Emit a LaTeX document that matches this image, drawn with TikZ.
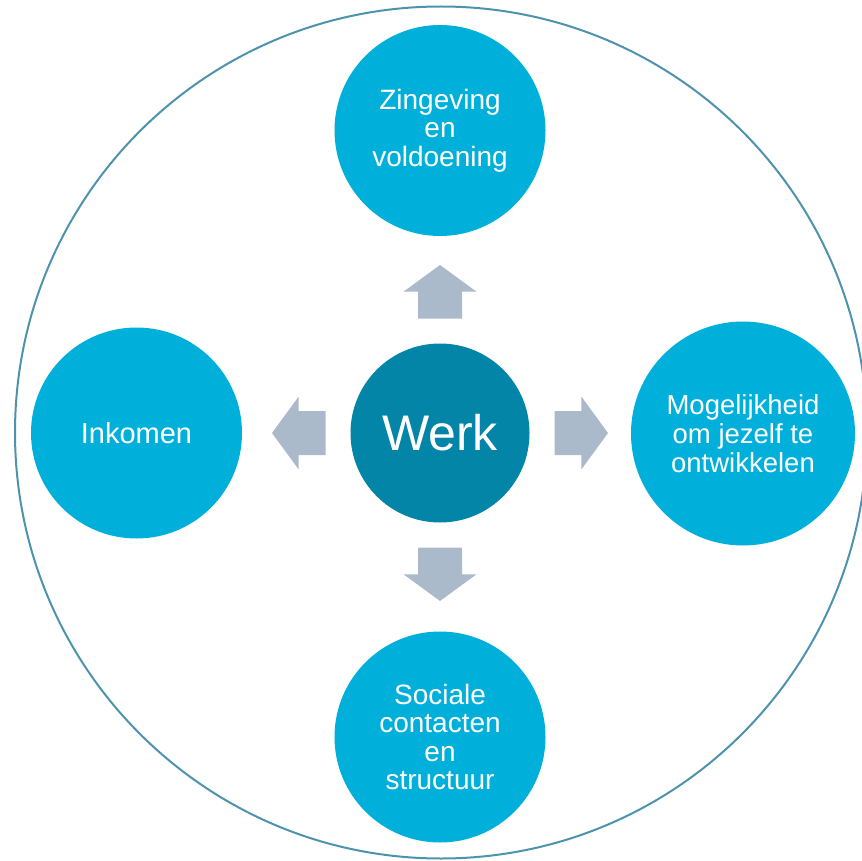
\documentclass[tikz,border=0pt]{standalone}
\usepackage{fontspec}
\setmainfont{Liberation Sans}
\usepackage{tikz}
\usetikzlibrary{calc}

\definecolor{satblue}{RGB}{0,176,219}
\definecolor{werkblue}{RGB}{3,133,168}
\definecolor{arrowgray}{RGB}{171,186,202}
\definecolor{ringblue}{RGB}{77,147,173}

\tikzset{
    satcirc/.style={circle, fill=satblue, text=white, inner sep=0pt, minimum size=211pt,
        align=center, font={\fontsize{28}{28.5}\selectfont}},
    werkcirc/.style={circle, fill=werkblue, text=white, inner sep=0pt, minimum size=179pt,
        font={\fontsize{50}{54}\selectfont}},
    ringcirc/.style={circle, draw=ringblue, line width=2pt, inner sep=0pt, minimum size=852pt},
}

\begin{document}
\begin{tikzpicture}[x=1pt, y=-1pt]
                \useasboundingbox (0,0) rectangle (862,861);
                \node [ringcirc] (ring) at (441,432.5) {};

                \node [werkcirc] (werk) at (440,433) {Werk};
                \node [satcirc] (zin) at (440,130.5) {Zingeving\\en\\voldoening};
                \node [satcirc] (inkomen) at (136.5,433) {\fontsize{29}{30}\selectfont Inkomen};
                \node [satcirc, minimum size=224pt, font={\fontsize{27.5}{29}\selectfont}] (ontw) at (743,433.5) {Mogelijkheid\\om jezelf te\\ontwikkelen};
                \node [satcirc] (sociaal) at (440,737) {Sociale\\contacten\\en\\structuur};

                \foreach \a in {0,90,180,270} {
                    \begin{scope}[shift={(werk.center)}, rotate=\a]
                        \fill [arrowgray] (114.5,-22) -- (141.3,-22) -- (141.3,-36.5) -- (168,0)
                            -- (141.3,36.5) -- (141.3,22) -- (114.5,22) -- cycle;
                    \end{scope}
                }
            \end{tikzpicture}
\end{document}
